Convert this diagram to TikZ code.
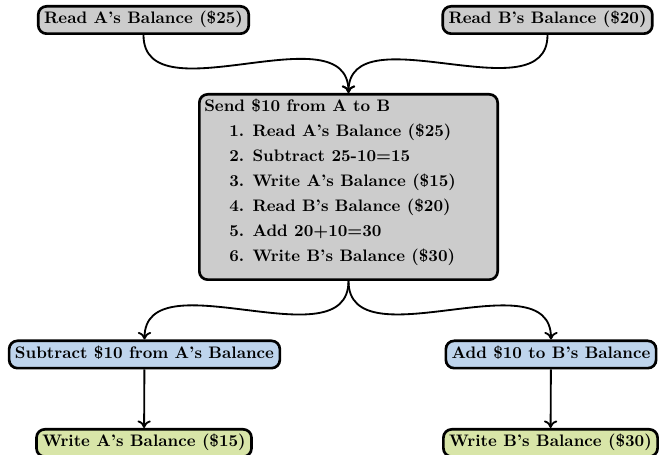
\documentclass[tikz,border=0pt]{standalone}
\usetikzlibrary{arrows.meta}
\definecolor{boxgray}{RGB}{204,204,204}
\definecolor{boxblue}{RGB}{190,212,236}
\definecolor{boxgreen}{RGB}{216,229,168}
\begin{document}
\begin{tikzpicture}[x=0.6pt,y=-0.6pt,font=\bfseries,
  blk/.style={draw=black,line width=1.6pt,rounded corners=5pt,
    inner xsep=3.5pt,inner ysep=0pt,minimum height=16.4pt,
    text height=7pt,text depth=2.3pt},
  graybox/.style={blk,fill=boxgray},
  bluebox/.style={blk,fill=boxblue},
  greenbox/.style={blk,fill=boxgreen},
  line/.style={anchor=base west,inner sep=0pt},
  link/.style={-{To[length=4.5pt,width=8pt]},line width=1.1pt}]
\useasboundingbox (0,0) rectangle (659,455);

% reads feeding the transfer
\node[graybox] (ra) at (143.5,20) {Read A's Balance (\$25)};
\node[graybox] (rb) at (547.5,20) {Read B's Balance (\$20)};

% the transfer and its steps
\node[graybox,minimum width=179pt,minimum height=111.2pt] (send) at (348.5,187) {};
\node[line] (s0) at (204,112) {Send \$10 from A to B};
\node[line] (s1) at (229,137) {1.\hspace{0.5em}Read A's Balance (\$25)};
\node[line] (s2) at (229,162) {2.\hspace{0.5em}Subtract 25-10=15};
\node[line] (s3) at (229,187) {3.\hspace{0.5em}Write A's Balance (\$15)};
\node[line] (s4) at (229,212) {4.\hspace{0.5em}Read B's Balance (\$20)};
\node[line] (s5) at (229,237) {5.\hspace{0.5em}Add 20+10=30};
\node[line] (s6) at (229,262) {6.\hspace{0.5em}Write B's Balance (\$30)};

% balance updates and writes
\node[bluebox] (sub) at (144.5,354.5) {Subtract \$10 from A's Balance};
\node[bluebox] (add) at (551,354.5) {Add \$10 to B's Balance};
\node[greenbox] (wa) at (144,443) {Write A's Balance (\$15)};
\node[greenbox] (wb) at (550.5,443) {Write B's Balance (\$30)};

% connectors
\draw[link] (ra.south) to[out=-90,in=90] (send.north);
\draw[link] (rb.south) to[out=-90,in=90] (send.north);
\draw[link] (send.south) to[out=-90,in=90] (sub.north);
\draw[link] (send.south) to[out=-90,in=90] (add.north);
\draw[link] (sub) -- (wa);
\draw[link] (add) -- (wb);
\end{tikzpicture}
\end{document}
